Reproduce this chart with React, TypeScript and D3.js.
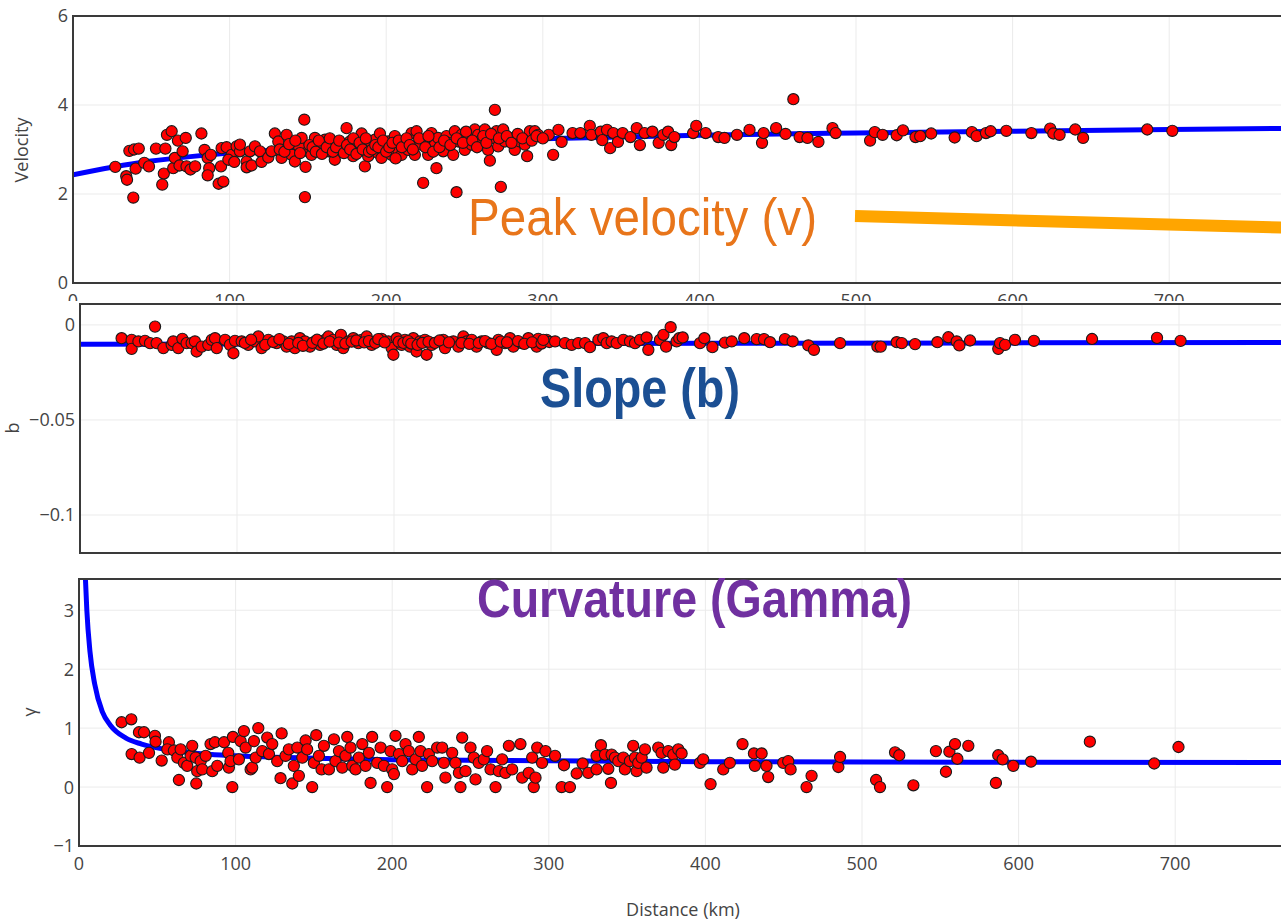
import React from "react";
import * as d3 from "d3";

// ---------- DATA ----------
const xTicks = [0, 100, 200, 300, 400, 500, 600, 700];
const velocityTicks = [0, 2, 4, 6];
const slopeTicks = [0, -0.05, -0.1];
const slopeTickLabels = ["0", "\u22120.05", "\u22120.1"];
const gammaTicks = [-1, 0, 1, 2, 3];
const gammaTickLabels = ["\u22121", "0", "1", "2", "3"];

// Peak velocity (v): [distance km, velocity]
const velocityPoints: [number, number][] = [
  [27, 2.61], [34, 2.4], [34.5, 2.32], [36, 2.97], [39, 3.0], [42, 3.02], [38.5, 1.92], [40, 2.57],
  [45.5, 2.7], [48.5, 2.62], [53, 3.02], [59, 3.02], [58, 2.46], [57, 2.21], [60, 3.33], [63, 3.41],
  [64, 2.58], [65, 2.81], [70, 2.96], [67, 3.2], [72, 3.26], [68, 2.64], [72.5, 2.62], [75, 2.55],
  [78, 2.62], [82, 3.36], [84, 2.99], [86, 2.81], [88, 2.88], [87, 2.58], [86, 2.42], [93, 2.23],
  [96, 2.28], [94.9, 3.03], [98.1, 3.05], [101.3, 2.88], [104.5, 3.07], [106.6, 2.96], [94.5, 2.62],
  [99.2, 2.77], [103, 2.72], [106.6, 3.11], [110.9, 2.73], [113, 2.96], [116.2, 3.07], [119.4, 2.96],
  [110.9, 2.6], [114, 2.64], [120.4, 2.72], [124.7, 2.82], [126.8, 2.96], [128.9, 3.36], [131.1, 3.18],
  [133.2, 2.81], [136.4, 3.33], [139.6, 2.88], [141.7, 2.73], [144.3, 3.07], [146, 3.26], [147.7, 3.67],
  [148.5, 2.61], [148.1, 1.93], [150.2, 2.96], [152.3, 2.88], [154.5, 3.26], [156.6, 3.03], [158.7, 3.15],
  [160.9, 3.22], [163, 2.96], [165.1, 3.15], [167.2, 2.77], [169.4, 3.11], [171.5, 2.99], [174.7, 3.48],
  [176.8, 3.18], [178.9, 2.85], [180, 3.07], [182.1, 2.96], [184.3, 3.36], [186.4, 2.62], [186.4, 3.15],
  [188.5, 2.85], [190.6, 3.11], [192.8, 3.22], [194.9, 2.92], [196, 3.36], [197, 2.81], [199.2, 3.07],
  [201.3, 3.18], [203.4, 2.88], [205.5, 3.3], [207.7, 2.99], [209.8, 2.88], [211.9, 3.18], [214, 2.99],
  [216.2, 3.37], [218.3, 2.88], [219.4, 3.41], [220.4, 3.11], [223.6, 2.25], [224.7, 3.22], [226.8, 2.88],
  [228.9, 3.37], [231.1, 3.11], [232.1, 2.58], [233.2, 3.26], [236.4, 2.96], [238.5, 3.3], [239.6, 3.15],
  [242.8, 2.88], [243.8, 3.41], [244.9, 2.04], [246, 3.18], [248.1, 3.33], [250.2, 2.99], [252.3, 3.26],
  [254.5, 3.11], [256.6, 3.45], [258.7, 3.33], [260.9, 3.22], [263, 3.45], [265.1, 2.99], [266.2, 2.75],
  [268.3, 3.26], [269.4, 3.89], [270.4, 3.41], [271.5, 3.07], [273.2, 2.16], [274.7, 3.45], [275.8, 3.18],
  [281.1, 3.26], [282.1, 2.99], [285.3, 3.18], [288.5, 3.11], [290, 2.85], [291.7, 3.41], [294.9, 3.41],
  [297, 3.33], [303.8, 3.33], [306.6, 2.88], [310, 3.44], [312, 3.17],
  [132, 3.0], [135, 2.95], [138, 3.12], [142, 3.2], [145, 2.92], [151, 3.1], [153, 3.05], [155, 2.95],
  [157, 3.2], [159, 2.9], [162, 3.05], [164, 3.25], [166, 2.95], [168, 3.05], [170, 3.2], [173, 2.92],
  [175, 3.1], [177, 3.0], [179, 3.25], [181, 2.9], [183, 3.15], [185, 3.0], [187, 3.25], [189, 2.95],
  [191, 3.0], [193, 3.1], [195, 3.05], [198, 3.2], [200, 2.95], [202, 3.05], [204, 3.15], [206, 2.8],
  [208, 3.2], [210, 3.05], [213, 3.25], [215, 3.1], [217, 3.0], [221, 3.25], [225, 3.05], [227, 3.3],
  [230, 2.95], [234, 3.05], [237, 3.2], [241, 3.1], [245, 3.25], [249, 3.15], [251, 3.4], [255, 3.2],
  [258, 3.05], [262, 3.3], [264, 3.15], [267, 3.35], [272, 3.25], [277, 3.3], [280, 3.15], [284, 3.35],
  [287, 3.25], [293, 3.2], [296, 3.3], [300, 3.25],
  [319, 3.37], [324, 3.37], [330, 3.53], [331, 3.33], [337, 3.4], [338, 3.21], [341, 3.44], [343, 3.03],
  [345, 3.37], [348, 3.17], [351, 3.37], [356, 3.28], [360, 3.48], [362, 3.1], [365, 3.37], [370, 3.4],
  [374, 3.15], [377, 3.33], [380, 3.4], [382, 3.1], [384, 3.28],
  [396, 3.37], [398, 3.53], [404, 3.37], [412, 3.28], [416, 3.26], [424, 3.33], [432, 3.44], [440, 3.15],
  [441, 3.37], [449, 3.48], [455, 3.35], [460, 4.13], [464, 3.28], [469, 3.26], [476, 3.17], [485, 3.48],
  [487, 3.37], [509, 3.2], [512, 3.39], [517, 3.33], [526, 3.32], [530, 3.43], [538, 3.28], [541, 3.3],
  [548, 3.36], [563, 3.27], [574, 3.39], [577, 3.3], [583, 3.37], [586, 3.41], [596, 3.42], [612, 3.37],
  [624, 3.47], [626, 3.36], [630, 3.33], [640, 3.45], [645, 3.26], [686, 3.45], [702, 3.42],
];

// Peak velocity fit line knots
const velocityFit: [number, number][] = [
  [0, 2.43], [25, 2.6], [50, 2.74], [75, 2.84], [100, 2.92], [150, 3.03], [200, 3.12], [300, 3.24],
  [400, 3.32], [500, 3.37], [600, 3.41], [700, 3.45], [800, 3.48],
];

// Slope (b): [distance km, b]
const slopePoints: [number, number][] = [
  [26.5, -0.007], [32.9, -0.0079], [32.9, -0.0126], [37.2, -0.0087], [41.4, -0.0084], [44.6, -0.0096],
  [47.8, -0.0009], [48.8, -0.0096], [53.1, -0.0122], [58.4, -0.0105], [59.4, -0.0087], [62.6, -0.0122],
  [65.2, -0.0073], [67.9, -0.0096], [71.1, -0.0096], [73.2, -0.0087], [74.3, -0.014], [77.5, -0.0114],
  [81.7, -0.0105], [83.9, -0.0079], [86, -0.007], [87.1, -0.0122], [92.4, -0.0079], [95.5, -0.0105],
  [97.7, -0.0149], [98.7, -0.0084], [103, -0.0087], [107.2, -0.0105], [111.5, -0.0087], [113.6, -0.0061],
  [115.7, -0.0122], [120, -0.0079], [125.3, -0.0096], [129.5, -0.0087], [131.6, -0.0114], [134.8, -0.0087],
  [136.9, -0.0122], [140.1, -0.007], [143.3, -0.0087], [146.5, -0.0114], [149.7, -0.0087], [152.9, -0.0105],
  [156.1, -0.0079], [158.2, -0.0061], [161.4, -0.0079], [163.5, -0.0105], [166.2, -0.0052], [167.7, -0.0122],
  [170.9, -0.0087], [174.1, -0.007], [177.3, -0.0096], [179.4, -0.0079], [182.6, -0.0061], [185.8, -0.0105],
  [192.1, -0.0073], [196.4, -0.0087], [198.5, -0.0122], [199.6, -0.0157], [201.7, -0.007], [204.9, -0.0105],
  [207, -0.0079], [210.2, -0.0114], [212.3, -0.007], [214.4, -0.014], [216.6, -0.0087], [219.7, -0.0079],
  [220.8, -0.0157], [224, -0.0105], [231.4, -0.0079], [232.5, -0.0122], [237.8, -0.0087], [241, -0.0114],
  [244.2, -0.0061], [246.3, -0.0087], [249.5, -0.0079], [252.6, -0.0114], [255.8, -0.0087], [260.1, -0.0096],
  [265.4, -0.0131], [266.5, -0.0079], [270.7, -0.0096], [273.9, -0.007], [276, -0.0114], [281.3, -0.0096],
  [285.6, -0.007], [290.9, -0.0114], [291.9, -0.0073], [297.2, -0.0079],
  [105, -0.0095], [109, -0.0078], [118, -0.0105], [123, -0.009], [127, -0.0075], [133, -0.01],
  [139, -0.0095], [142, -0.011], [148, -0.0095], [151, -0.0078], [155, -0.0098], [159, -0.0088],
  [165, -0.0093], [169, -0.0098], [173, -0.0088], [176, -0.0082], [181, -0.0092], [184, -0.0085],
  [188, -0.0095], [190, -0.0075], [194, -0.0092], [203, -0.0088], [206, -0.0095], [209, -0.0085],
  [211, -0.0098], [215, -0.0105], [218, -0.0095], [222, -0.0088], [226, -0.0095], [229, -0.0082],
  [235, -0.0092], [243, -0.0095], [248, -0.01], [254, -0.0095], [258, -0.0085], [262, -0.01],
  [268, -0.0088], [272, -0.0092], [279, -0.0085], [283, -0.01], [288, -0.0092], [294, -0.0098], [299, -0.009],
  [295.1, -0.0079], [302.6, -0.0087], [308.9, -0.0096], [313.2, -0.0105], [317.4, -0.0096], [321.7, -0.0096],
  [324.8, -0.0117], [330.2, -0.0079], [333.3, -0.007], [335.5, -0.0096], [338.6, -0.0087], [341.8, -0.0096],
  [346.1, -0.0079], [350.3, -0.0087], [353.5, -0.0096], [356.7, -0.0079], [360.9, -0.0066], [362, -0.0131],
  [369.4, -0.0079], [371.6, -0.0052], [373.3, -0.0114], [376.2, -0.0012], [380, -0.0087], [381.7, -0.007],
  [383.9, -0.0066], [394.9, -0.0096], [397.7, -0.007], [402.8, -0.0117], [410.8, -0.0093], [415.1, -0.0087],
  [423.1, -0.007], [431, -0.0075], [435.7, -0.0075], [439.5, -0.0091], [449, -0.0075], [453.9, -0.0087],
  [463.9, -0.0108], [467.5, -0.0131], [484.1, -0.0096], [507.9, -0.0114], [510, -0.0114], [520.2, -0.0091],
  [523.4, -0.0096], [531.9, -0.0101], [546.1, -0.0091], [553.1, -0.0065], [558.4, -0.0087], [560.1, -0.0108],
  [566.9, -0.0082], [584.9, -0.0126], [586, -0.0096], [589.2, -0.0105], [595.5, -0.0079], [607.6, -0.0084],
  [644.6, -0.0074], [686, -0.0068], [701, -0.0084],
];

// Slope fit line knots
const slopeFit: [number, number][] = [[0, -0.0102], [400, -0.0097], [800, -0.0092]];

// Curvature (gamma): [distance km, gamma]
const gammaPoints: [number, number][] = [
  [27.2, 1.1], [33.4, 1.15], [38.3, 0.93], [41.5, 0.93], [48.5, 0.87], [48.9, 0.77], [33.6, 0.56],
  [38.7, 0.5], [44.7, 0.58], [52.8, 0.45], [57.4, 0.76], [56.4, 0.64], [60.6, 0.62], [62.8, 0.5],
  [63.8, 0.12], [64.9, 0.64], [67, 0.41], [69.1, 0.36], [71.3, 0.53], [72.3, 0.7], [74.5, 0.5],
  [74.9, 0.06], [75.5, 0.27], [77.7, 0.44], [78.7, 0.3], [80.9, 0.53], [84, 0.73], [85.1, 0.27],
  [86.8, 0.76], [88.3, 0.36], [92.6, 0.76], [95.3, 0.58], [95.7, 0.33], [96.8, 0.44], [97.9, 0.0],
  [98.3, 0.85], [102.1, 0.47], [103.2, 0.78], [105.3, 0.95], [106.4, 0.67], [109.6, 0.3], [110.6, 0.33],
  [111.7, 0.78], [112.8, 0.5], [114.5, 1.0], [117, 0.61], [120.2, 0.84], [121.3, 0.56], [123.4, 0.73],
  [126.6, 0.44], [128.7, 0.15], [129.4, 0.91], [131.9, 0.53], [134, 0.64], [136.2, 0.06], [137.2, 0.36],
  [139.4, 0.67], [140.4, 0.19], [142.6, 0.5], [144.7, 0.79], [145.7, 0.64], [148.9, 0.0], [150, 0.41],
  [151.5, 0.88], [153.2, 0.53], [154.9, 0.3], [156.4, 0.7], [159.6, 0.3], [162.8, 0.81], [163.8, 0.44],
  [166, 0.61], [168.1, 0.33], [170.2, 0.53], [171.3, 0.85], [173.4, 0.67], [174.5, 0.36], [176.6, 0.3],
  [178.7, 0.5], [180.9, 0.73], [183, 0.36], [185.1, 0.58], [186.2, 0.07], [187.2, 0.85], [190.4, 0.41],
  [192.6, 0.67], [194.7, 0.36], [196.8, 0.0], [198.9, 0.61], [200, 0.3], [201.1, 0.22], [202.1, 0.87],
  [204.3, 0.56], [206.4, 0.44], [208.5, 0.73], [210.6, 0.61], [212.8, 0.3], [214.9, 0.47], [217, 0.85],
  [218.1, 0.61], [219.1, 0.36], [222.3, 0.0], [223.4, 0.56], [225.5, 0.44], [228.7, 0.67], [231.9, 0.67],
  [233, 0.41], [234, 0.16], [238.3, 0.58], [240.4, 0.41], [242.6, 0.24], [243.6, 0.0], [244.7, 0.84],
  [246.8, 0.27], [250, 0.67], [252.1, 0.5], [253.2, 0.13], [255.3, 0.41], [258.5, 0.47], [260.6, 0.61],
  [262.8, 0.3], [266, 0.0], [268.1, 0.27], [270.2, 0.47], [272.3, 0.24], [274.5, 0.7], [276.6, 0.3],
  [281.9, 0.73], [283, 0.16], [287.2, 0.24], [289.4, 0.5], [290.4, 0.0], [291.5, 0.16], [292.6, 0.67],
  [295.7, 0.41], [297.9, 0.61],
  [304, 0.53], [309.7, 0.37], [308.2, 0.0], [313.5, 0.0], [317.8, 0.23], [321.6, 0.4], [325.2, 0.24],
  [330.5, 0.3], [330.5, 0.53], [333.3, 0.71], [335.9, 0.55], [338, 0.31], [340.1, 0.55], [339.7, 0.07],
  [342.2, 0.5], [344.4, 0.44], [347.6, 0.5], [348.6, 0.3], [351.8, 0.44], [353.9, 0.7], [355, 0.5],
  [356.1, 0.27], [357.1, 0.41], [359.3, 0.5], [361.4, 0.64], [362.4, 0.33], [369.9, 0.67], [373.1, 0.33],
  [372, 0.58], [376.3, 0.61], [379.5, 0.55], [380.5, 0.38], [382.7, 0.64], [384.8, 0.57], [396.5, 0.41],
  [398.6, 0.47], [403.3, 0.05], [411.4, 0.3], [415.6, 0.41], [423.7, 0.73], [431, 0.57], [431.6, 0.36],
  [435.9, 0.57], [439, 0.36], [440.1, 0.17], [449.7, 0.41], [452.9, 0.44], [454.4, 0.3], [464.6, 0.0],
  [467.8, 0.19], [484.9, 0.34], [486, 0.51], [509, 0.12], [511.5, 0.0], [521.1, 0.59], [523.8, 0.54],
  [532.8, 0.03], [547.2, 0.61], [553.6, 0.26], [555.8, 0.6], [559.4, 0.73], [560.9, 0.48], [567.9, 0.7],
  [585.5, 0.07], [587, 0.54], [589.8, 0.47], [596.6, 0.36], [607.9, 0.43], [645.5, 0.77], [686.6, 0.4],
  [702.1, 0.68],
];

// Curvature fit line knots
const gammaFit: [number, number][] = [
  [4, 3.6], [5, 3.0], [7, 2.3], [10, 1.75], [15, 1.27], [20, 1.05], [30, 0.83], [40, 0.73], [60, 0.62],
  [80, 0.56], [100, 0.53], [150, 0.49], [200, 0.465], [300, 0.445], [400, 0.43], [600, 0.42], [800, 0.415],
];

// ---------- LAYOUT ----------
const W = 1281;
const H = 924;
const FONT = "'Open Sans', 'DejaVu Sans', sans-serif";
const TICK_COLOR = "#444";
const GRID = "#ebebeb";
const FRAME = "#3a3a3a";

type PanelProps = {
  id: string;
  left: number;
  top: number;
  bottom: number;
  pxPer100: number;
  yDomain: [number, number];
  yTicks: number[];
  yTickLabels: string[];
  points: [number, number][];
  fit: [number, number][];
  title: string;
  titleX: number;
  titleY: number;
  showXLabels: boolean;
};

function Panel(p: PanelProps) {
  const right = p.left + (p.pxPer100 * 800) / 100;
  const x = d3.scaleLinear().domain([0, 800]).range([p.left, right]);
  const y = d3.scaleLinear().domain(p.yDomain).range([p.bottom, p.top]);
  const line = d3
    .line<[number, number]>()
    .x((d) => x(d[0]))
    .y((d) => y(d[1]))
    .curve(d3.curveMonotoneX);
  const clipId = `clip-${p.id}`;
  return (
    <g>
      <defs>
        <clipPath id={clipId}>
          <rect x={p.left} y={p.top} width={right - p.left} height={p.bottom - p.top} />
        </clipPath>
      </defs>
      <rect x={p.left} y={p.top} width={right - p.left} height={p.bottom - p.top} fill="#fff" />
      {/* grid */}
      {xTicks.map((t) => (
        <line key={"gx" + t} x1={x(t)} x2={x(t)} y1={p.top} y2={p.bottom} stroke={GRID} strokeWidth={1} />
      ))}
      {p.yTicks.map((t) => (
        <line key={"gy" + t} x1={p.left} x2={right} y1={y(t)} y2={y(t)} stroke={GRID} strokeWidth={1} />
      ))}
      {/* data */}
      <g clipPath={`url(#${clipId})`}>
        <path d={line(p.fit) || ""} fill="none" stroke="#0000ff" strokeWidth={5} />
        {p.points.map((d, i) => (
          <circle key={i} cx={x(d[0])} cy={y(d[1])} r={5.6} fill="#ff0000" stroke="#1a1a1a" strokeWidth={1.1} />
        ))}
      </g>
      {/* frame */}
      <rect
        x={p.left}
        y={p.top}
        width={right - p.left}
        height={p.bottom - p.top}
        fill="none"
        stroke={FRAME}
        strokeWidth={2}
      />
      {/* y tick labels */}
      {p.yTicks.map((t, i) => (
        <text
          key={"ty" + t}
          x={p.left - 5}
          y={y(t)}
          dy="0.36em"
          textAnchor="end"
          fontFamily={FONT}
          fontSize={18}
          fill={TICK_COLOR}
        >
          {p.yTickLabels[i]}
        </text>
      ))}
      {/* x tick labels */}
      {p.showXLabels &&
        xTicks.map((t) => (
          <text
            key={"tx" + t}
            x={x(t)}
            y={p.bottom + 24}
            textAnchor="middle"
            fontFamily={FONT}
            fontSize={18}
            fill={TICK_COLOR}
          >
            {t}
          </text>
        ))}
      {/* y title */}
      <text
        transform={`translate(${p.titleX},${p.titleY}) rotate(-90)`}
        textAnchor="middle"
        dy="0.36em"
        fontFamily={FONT}
        fontSize={18}
        fill={TICK_COLOR}
      >
        {p.title}
      </text>
    </g>
  );
}

export default function App() {
  return (
    <svg
      width={W}
      height={H}
      viewBox={`0 0 ${W} ${H}`}
      style={{ position: "absolute", left: 0, top: 0, display: "block", background: "#fff" }}
    >
      <rect x={0} y={0} width={W} height={H} fill="#fff" />
      <Panel
        id="v"
        left={73}
        top={16}
        bottom={283}
        pxPer100={156.6}
        yDomain={[0, 6]}
        yTicks={velocityTicks}
        yTickLabels={velocityTicks.map(String)}
        points={velocityPoints}
        fit={velocityFit}
        title="Velocity"
        titleX={22}
        titleY={150}
        showXLabels={true}
      />
      {/* cover for second screenshot */}
      <rect x={0} y={301} width={W} height={260} fill="#fff" />
      <Panel
        id="b"
        left={80}
        top={304}
        bottom={553}
        pxPer100={157}
        yDomain={[-0.12, 0.011]}
        yTicks={slopeTicks}
        yTickLabels={slopeTickLabels}
        points={slopePoints}
        fit={slopeFit}
        title="b"
        titleX={13}
        titleY={428}
        showXLabels={false}
      />
      <rect x={0} y={560} width={W} height={H - 560} fill="#fff" />
      <Panel
        id="g"
        left={79}
        top={579}
        bottom={846}
        pxPer100={156.6}
        yDomain={[-1, 3.53]}
        yTicks={gammaTicks}
        yTickLabels={gammaTickLabels}
        points={gammaPoints}
        fit={gammaFit}
        title={"\u03b3"}
        titleX={30}
        titleY={712}
        showXLabels={true}
      />
      <text x={683} y={916} textAnchor="middle" fontFamily={FONT} fontSize={18} fill={TICK_COLOR}>
        Distance (km)
      </text>

      {/* annotations */}
      <line x1={855} y1={216} x2={1295} y2={228} stroke="#ffa500" strokeWidth={12} />
      <text
        x={468}
        y={235}
        fontFamily="'Liberation Sans', Arial, sans-serif"
        fontSize={52}
        fill="#e8751a"
        textLength={349}
        lengthAdjust="spacingAndGlyphs"
      >
        Peak velocity (v)
      </text>
      <text
        x={540}
        y={407}
        fontFamily="'Liberation Sans', Arial, sans-serif"
        fontWeight="bold"
        fontSize={55}
        fill="#1b4f93"
        textLength={200}
        lengthAdjust="spacingAndGlyphs"
      >
        Slope (b)
      </text>
      <text
        x={477}
        y={617}
        fontFamily="'Liberation Sans', Arial, sans-serif"
        fontWeight="bold"
        fontSize={54}
        fill="#7030a0"
        textLength={435}
        lengthAdjust="spacingAndGlyphs"
      >
        Curvature (Gamma)
      </text>
    </svg>
  );
}
